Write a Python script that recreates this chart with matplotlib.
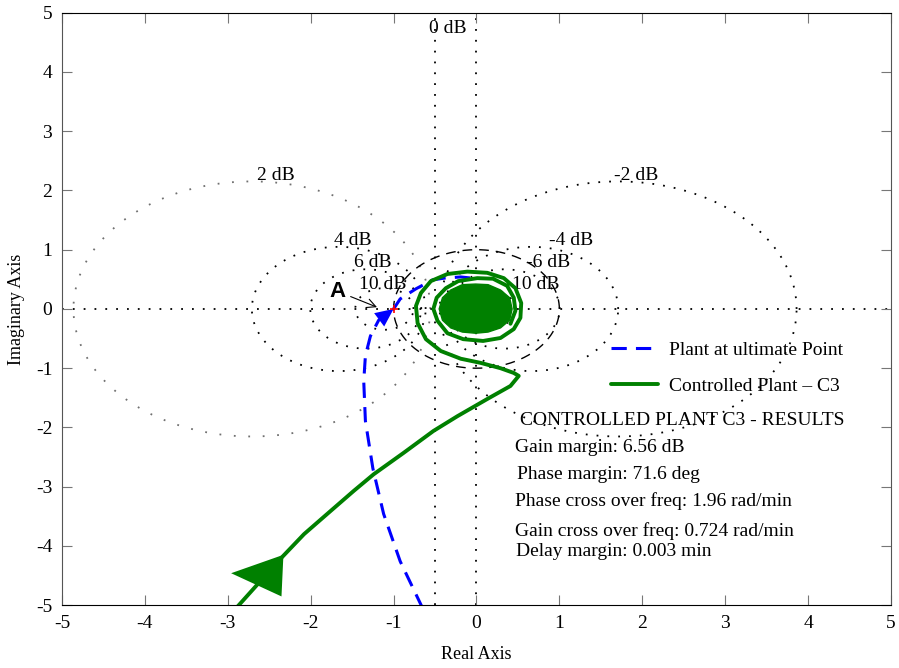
import numpy as np
import matplotlib
matplotlib.use("Agg")
import matplotlib.pyplot as plt
from matplotlib.patches import FancyArrowPatch

plt.rcParams['font.family'] = ['Liberation Serif', 'DejaVu Serif']
plt.rcParams['axes.unicode_minus'] = False

# ======================================
# DATA
# M-circles in dB, with label positions
circle_db = [2, -2, 4, -4, 6, -6, 10, -10]
circle_colors = ['#707070', 'black', 'black', 'black', 'black', 'black', 'black', 'black']
label_text = ['2 dB', '-2 dB', '4 dB', '-4 dB', '6 dB', '-6 dB', '10 dB', '10 dB', '0 dB']
label_x = [-2.42, 1.93, -1.49, 1.14, -1.25, 0.87, -1.13, 0.72, -0.35]
label_y = [2.26, 2.26, 1.15, 1.15, 0.79, 0.79, 0.42, 0.42, 4.73]

# plant at ultimate point (blue dashed)
plant_re = [-0.65, -0.92, -1.12, -1.25, -1.34, -1.36, -1.34, -1.28, -1.18, -1.0,
            -0.92, -0.73, -0.53, -0.39, -0.19, 0.01]
plant_im = [-5.05, -4.26, -3.46, -2.69, -1.89, -1.22, -0.79, -0.46, -0.19, 0.0,
            0.17, 0.34, 0.49, 0.52, 0.54, 0.51]

# controlled plant C3 (green)
ctrl_re = [-2.90, -2.36, -2.08, -1.76, -1.48, -1.24, -0.88, -0.52, -0.23, 0.13,
           0.41, 0.51, 0.45, 0.29, 0.05, -0.19, -0.43, -0.61, -0.71, -0.73,
           -0.67, -0.55, -0.35, -0.11, 0.13, 0.33, 0.47, 0.54, 0.53, 0.45,
           0.29, 0.08, -0.16, -0.35, -0.47, -0.52, -0.48, -0.37, -0.22, 0.01,
           0.20, 0.37, 0.45, 0.47, 0.41]
ctrl_im = [-5.05, -4.21, -3.80, -3.41, -3.07, -2.79, -2.43, -2.06, -1.81, -1.52,
           -1.30, -1.13, -1.08, -1.00, -0.91, -0.84, -0.71, -0.51, -0.24, 0.05,
           0.27, 0.47, 0.59, 0.63, 0.61, 0.52, 0.35, 0.10, -0.15, -0.34,
           -0.49, -0.54, -0.51, -0.41, -0.20, 0.0, 0.19, 0.35, 0.47, 0.52,
           0.51, 0.39, 0.19, -0.03, -0.25]
# dense spiral core (drawn filled)
core_re = [0.43, 0.40, 0.29, 0.14, -0.01, -0.17, -0.31, -0.41,
           -0.45, -0.41, -0.31, -0.17, -0.01, 0.14, 0.29, 0.40]
core_im = [0.0, -0.19, -0.32, -0.39, -0.41, -0.39, -0.32, -0.19,
           0.0, 0.19, 0.32, 0.41, 0.42, 0.41, 0.32, 0.19]

results = ['CONTROLLED PLANT C3 - RESULTS',
           'Gain margin: 6.56 dB',
           'Phase margin: 71.6 deg',
           'Phase cross over freq: 1.96 rad/min',
           'Gain cross over freq: 0.724 rad/min',
           'Delay margin: 0.003 min']
results_x = [0.53, 0.47, 0.49, 0.47, 0.46, 0.48]
results_y = [-1.89, -2.33, -2.80, -3.24, -3.75, -4.10]

ticks = [-5, -4, -3, -2, -1, 0, 1, 2, 3, 4, 5]

# ======================================
# FIGURE
fig = plt.figure(figsize=(8.99, 6.68), dpi=100)
ax = fig.add_axes([0.069, 0.094, 0.922, 0.887])

t = np.linspace(0, 2 * np.pi, 500)
for db, col in zip(circle_db, circle_colors):
    M = 10 ** (db / 20.0)
    c = -M ** 2 / (M ** 2 - 1)
    r = abs(M / (M ** 2 - 1))
    ls = (0, (1, 7)) if db == 2 else (0, (1, 5))
    ax.plot(c + r * np.cos(t), r * np.sin(t), color=col, lw=1.3, ls=ls, zorder=1)

# unit circle
ax.plot(np.cos(t), np.sin(t), color='black', lw=1.0, ls=(0, (7, 5)), zorder=1)
# 0 dB line and axis lines
ax.axvline(-0.5, color='black', lw=1.3, ls=(0, (1, 5)), zorder=1)
ax.axvline(0, color='black', lw=1.3, ls=(0, (1, 5)), zorder=1)
ax.axhline(0, color='black', lw=1.3, ls=(0, (1, 5)), zorder=1)

for s, x, y in zip(label_text, label_x, label_y):
    ax.text(x, y, s, ha='center', va='center', fontsize=14, zorder=2)

# curves
plant_line, = ax.plot(plant_re, plant_im, color='blue', lw=2.2, ls=(0, (5, 3)),
                      zorder=3, label='Plant at ultimate Point')
ctrl_line, = ax.plot(ctrl_re, ctrl_im, color='green', lw=2.8, zorder=4,
                     label='Controlled Plant \u2013 C3', solid_joinstyle='round',
                     solid_capstyle='round')
ax.fill(core_re, core_im, color='green', zorder=4)

# direction arrows
ax.add_patch(FancyArrowPatch((-2.35, -4.5), (-2.96, -4.46),
                             arrowstyle='-|>,head_length=37,head_width=15',
                             mutation_scale=1, color='green', lw=0,
                             shrinkA=0, shrinkB=0, zorder=5))
ax.add_patch(FancyArrowPatch((-1.18, -0.19), (-1.0, 0.0),
                             arrowstyle='-|>,head_length=13,head_width=6',
                             mutation_scale=1, color='blue', lw=0,
                             shrinkA=0, shrinkB=0, zorder=5))
ax.plot([-1], [0], marker='+', color='red', ms=6, mew=1.2, zorder=6)

ax.annotate('A', xy=(-1.2, 0.03), xytext=(-1.68, 0.30), ha='center', va='center',
            fontsize=16, fontweight='bold', family='Liberation Sans',
            arrowprops=dict(arrowstyle='->', color='black', lw=0.8,
                            shrinkA=2, shrinkB=0))

leg = ax.legend(handles=[plant_line, ctrl_line], loc='upper left',
                bbox_to_anchor=(0.641, 0.475), frameon=False, fontsize=14,
                handlelength=2.4, labelspacing=0.95, handletextpad=0.6)

for s, x, y in zip(results, results_x, results_y):
    ax.text(x, y, s, ha='left', va='center', fontsize=14, zorder=6)

# ======================================
# AXES
ax.set_xlim(-5, 5)
ax.set_ylim(-5, 5)
ax.set_xticks(ticks)
ax.set_yticks(ticks)
ax.tick_params(direction='in', top=True, right=True, length=7, color='#777777',
               labelsize=14, pad=7)
for side in ['left', 'right']:
    ax.spines[side].set_color('#555555')
ax.set_xlabel('Real Axis', fontsize=13, labelpad=10)
ax.set_ylabel('Imaginary Axis', fontsize=13, labelpad=8)

fig.savefig('out.png', dpi=100)
